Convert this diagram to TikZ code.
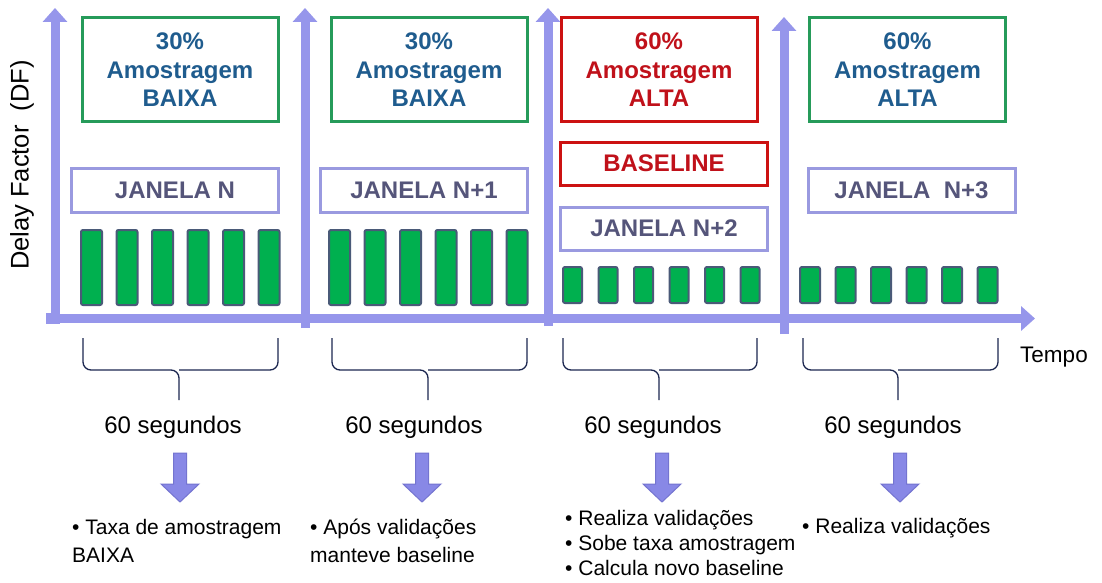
\documentclass[tikz,border=0pt]{standalone}
\usepackage{fontspec}
\setmainfont{Liberation Sans}
\usetikzlibrary{arrows.meta}

\definecolor{axisblue}{RGB}{150,150,235}
\definecolor{ratewreen}{RGB}{38,155,90}
\definecolor{ratetext}{RGB}{31,92,142}
\definecolor{alertred}{RGB}{204,17,17}
\definecolor{alerttext}{RGB}{192,17,26}
\definecolor{winline}{RGB}{154,154,224}
\definecolor{wintext}{RGB}{85,85,122}
\definecolor{barfill}{RGB}{0,176,79}
\definecolor{barline}{RGB}{74,90,120}
\definecolor{bracecol}{RGB}{28,39,80}
\definecolor{pushfill}{RGB}{136,136,230}
\definecolor{pushline}{RGB}{116,116,208}

\begin{document}
\begin{tikzpicture}[x=1pt,y=-1pt,
    axis/.style={line width=9pt, draw=axisblue, -{Triangle[width=24pt,length=14pt]}},
    ratebox/.style={draw=ratewreen, line width=3pt, fill=white, minimum width=196pt,
      minimum height=104pt, align=center, text=ratetext,
      font=\bfseries\fontsize{24}{28.5}\selectfont},
    winbox/.style={draw=winline, line width=3pt, fill=white, minimum width=207pt,
      minimum height=44pt, text=wintext, font=\bfseries\fontsize{24}{28}\selectfont},
    bar/.style={fill=barfill, draw=barline, line width=2pt, rounded corners=2pt},
    brace/.style={draw=bracecol, line width=1.3pt, rounded corners=8pt},
    push/.style={fill=pushfill, draw=pushline, line width=1pt},
    note/.style={anchor=base west, inner sep=0pt, font=\fontsize{21}{25}\selectfont},
    dur/.style={anchor=base, inner sep=0pt, font=\fontsize{24}{28}\selectfont}
  ]

  \useasboundingbox[fill=white] (0,0) rectangle (1102,583);

  % axes
  \draw[axis] (46,318.5) -- (1035,318.5);
  \draw[line width=11pt, draw=axisblue] (46,318.5) -- (60,318.5);
  \draw[axis] (55,323) -- (55,8);
  \draw[axis] (305,328) -- (305,8);
  \draw[axis] (548,326) -- (548,8);
  \draw[axis] (784,334) -- (784,17);

  \node[rotate=90, font=\fontsize{25.5}{30}\selectfont] (ylabel) at (22,165) {Delay Factor\ \ (DF)};
  \node[anchor=base west, font=\fontsize{22.5}{27}\selectfont, inner sep=0pt] (tempo) at (1020,362) {Tempo};

  % sampling rate boxes
  \node[ratebox] (rate1) at (180,70) {30\%\\Amostragem\\BAIXA};
  \node[ratebox] (rate2) at (429,70) {30\%\\Amostragem\\BAIXA};
  \node[ratebox, draw=alertred, text=alerttext] (rate3) at (659,70) {60\%\\Amostragem\\ALTA};
  \node[ratebox] (rate4) at (907.5,70) {60\%\\Amostragem\\ALTA};

  % windows
  \node[winbox] (win1) at (175,190) {JANELA N};
  \node[winbox] (win2) at (424,190) {JANELA N+1};
  \node[winbox, draw=alertred, text=alerttext, minimum height=43pt] (base3) at (664,163.5) {BASELINE};
  \node[winbox, minimum height=43pt] (win3) at (664,228.5) {JANELA N+2};
  \node[winbox] (win4) at (911.5,190) {JANELA\ \ N+3};

  % samples
  \foreach \i in {0,...,5} {
    \draw[bar] (81+35.5*\i,230) rectangle ++(21,75);
    \draw[bar] (329+35.5*\i,230) rectangle ++(21,75);
    \draw[bar] (563+35.5*\i,267) rectangle ++(19,36);
    \draw[bar] (800+35.5*\i,267) rectangle ++(20,36);
  }

  % braces
  \draw[brace] (83,338) |- (179,370) -- (179,400);
  \draw[brace] (278,338) |- (179,370);
  \draw[brace] (332,338) |- (428,370) -- (428,400);
  \draw[brace] (527,338) |- (428,370);
  \draw[brace] (563,338) |- (659,370) -- (659,400);
  \draw[brace] (757,338) |- (659,370);
  \draw[brace] (803,338) |- (898,370) -- (898,400);
  \draw[brace] (998,338) |- (898,370);

  \node[dur] (dur1) at (173,433) {60 segundos};
  \node[dur] (dur2) at (414,433) {60 segundos};
  \node[dur] (dur3) at (653,433) {60 segundos};
  \node[dur] (dur4) at (893,433) {60 segundos};

  % block arrows
  \foreach \x in {180,422,662,900} {
    \draw[push] (\x-6.5,453) -- (\x+6.5,453) -- (\x+6.5,484) -- (\x+19,484)
      -- (\x,502) -- (\x-19,484) -- (\x-6.5,484) -- cycle;
  }

  % notes
  \node[note] (note1a) at (72,534) {• Taxa de amostragem};
  \node[note] (note1b) at (72,562) {BAIXA};
  \node[note] (note2a) at (310,534) {• Após validações};
  \node[note] (note2b) at (310,562) {manteve baseline};
  \node[note] (note3a) at (565,525) {• Realiza validações};
  \node[note] (note3b) at (565,550) {• Sobe taxa amostragem};
  \node[note] (note3c) at (565,575) {• Calcula novo baseline};
  \node[note] (note4a) at (802,533) {• Realiza validações};

\end{tikzpicture}
\end{document}
